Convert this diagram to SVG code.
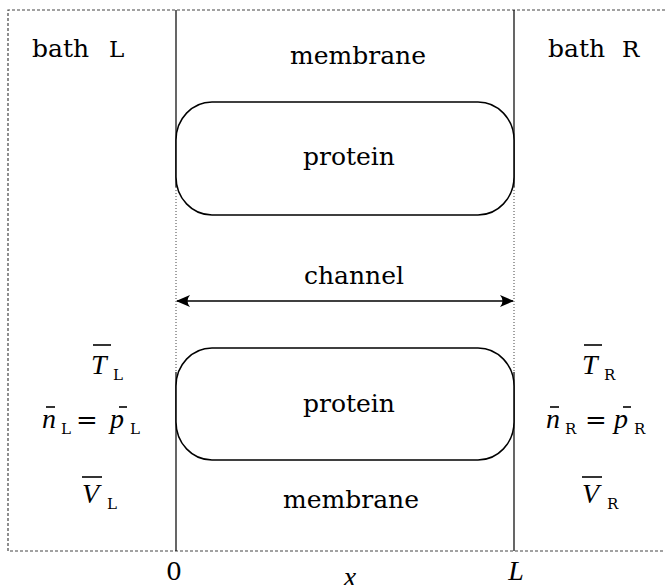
<svg xmlns="http://www.w3.org/2000/svg" width="665" height="585" viewBox="0 0 665 585">
<defs>
<style>
.t{font-family:"DejaVu Serif","Liberation Serif",serif;font-size:25px;fill:#000}
.tt{font-family:"DejaVu Serif","Liberation Serif",serif;font-size:23px;fill:#000}
.m{font-family:"Liberation Serif","DejaVu Serif",serif;font-size:28px;font-style:italic;fill:#000}
.s{font-family:"DejaVu Serif","Liberation Serif",serif;font-size:15px;fill:#000}
.eq{font-family:"DejaVu Serif","Liberation Serif",serif;font-size:26px;fill:#000}
.bar{stroke:#000;stroke-width:1.6}
.frame{fill:none;stroke:#444;stroke-width:1.2;stroke-dasharray:3 2}
.wall{stroke:#000;stroke-width:1.2}
.dot{stroke:#444;stroke-width:1;stroke-dasharray:1 2}
.prot{fill:#fff;stroke:#000;stroke-width:1.5}
</style>
<marker id="ah" viewBox="0 0 14 12" refX="13" refY="6" markerWidth="14" markerHeight="12" markerUnits="userSpaceOnUse" orient="auto-start-reverse">
<path d="M0,0 Q5,6 0,12 L14,6 Z" fill="#000"/>
</marker>
</defs>
<g id="frame">
<path class="frame" d="M665,10 H8 V551 H665"/>
</g>
<g id="walls">
<line class="wall" x1="176" y1="10" x2="176" y2="187"/>
<line class="dot" x1="176" y1="187" x2="176" y2="372"/>
<line class="wall" x1="176" y1="372" x2="176" y2="551"/>
<line class="wall" x1="514" y1="10" x2="514" y2="187"/>
<line class="dot" x1="514" y1="187" x2="514" y2="372"/>
<line class="wall" x1="514" y1="372" x2="514" y2="551"/>
</g>
<g id="protein-top">
<rect class="prot" x="176" y="102" width="338" height="113" rx="36" ry="38"/>
<text class="t" x="349" y="165" text-anchor="middle">protein</text>
</g>
<g id="protein-bottom">
<rect class="prot" x="176" y="348" width="338" height="112" rx="36" ry="38"/>
<text class="t" x="349" y="412" text-anchor="middle">protein</text>
</g>
<g id="membrane-top">
<text class="t" x="358" y="64" text-anchor="middle">membrane</text>
</g>
<g id="membrane-bottom">
<text class="t" x="351" y="508" text-anchor="middle">membrane</text>
</g>
<g id="connectors">
<line x1="177" y1="301" x2="513" y2="301" stroke="#000" stroke-width="1.3" marker-start="url(#ah)" marker-end="url(#ah)"/>
</g>
<g id="channel">
<text class="t" x="354" y="284" text-anchor="middle">channel</text>
</g>
<g id="bath-L">
<text class="t" x="32" y="57">bath</text>
<text class="tt" x="109" y="57">L</text>
</g>
<g id="bath-R">
<text class="t" x="548" y="57">bath</text>
<text class="tt" x="622" y="57">R</text>
</g>
<g id="vars-L">
<text class="m" x="91" y="374">T</text><line class="bar" x1="93" y1="345" x2="111" y2="345"/>
<text class="s" x="113" y="380">L</text>
<text class="m" x="42" y="428">n</text><line class="bar" x1="46" y1="407" x2="55" y2="407"/>
<text class="s" x="61" y="434">L</text>
<text class="eq" x="76" y="429">=</text>
<text class="m" x="110" y="428">p</text><line class="bar" x1="119" y1="407" x2="127" y2="407"/>
<text class="s" x="130" y="434">L</text>
<text class="m" x="82" y="503">V</text><line class="bar" x1="82" y1="477" x2="102" y2="477"/>
<text class="s" x="107" y="509">L</text>
</g>
<g id="vars-R">
<text class="m" x="582" y="374">T</text><line class="bar" x1="584" y1="345" x2="602" y2="345"/>
<text class="s" x="604" y="380">R</text>
<text class="m" x="546" y="428">n</text><line class="bar" x1="550" y1="407" x2="559" y2="407"/>
<text class="s" x="565" y="434">R</text>
<text class="eq" x="585" y="429">=</text>
<text class="m" x="614" y="428">p</text><line class="bar" x1="623" y1="407" x2="631" y2="407"/>
<text class="s" x="634" y="434">R</text>
<text class="m" x="582" y="503">V</text><line class="bar" x1="582" y1="477" x2="602" y2="477"/>
<text class="s" x="607" y="509">R</text>
</g>
<g id="axis">
<text class="t" x="174" y="580" text-anchor="middle">0</text>
<text class="m" x="350" y="586" text-anchor="middle">x</text>
<text class="m" x="516" y="580" text-anchor="middle">L</text>
</g>
</svg>
